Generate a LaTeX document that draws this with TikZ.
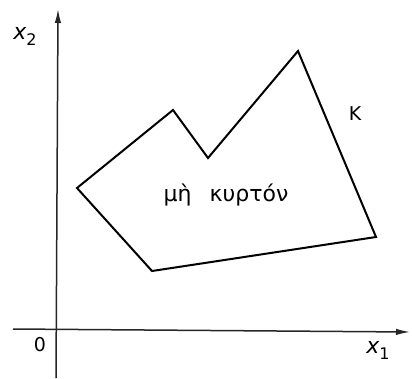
\documentclass[tikz,border=0pt]{standalone}
\usepackage{fontspec}
\setmainfont{DejaVu Sans}
\usetikzlibrary{arrows.meta}
\begin{document}
\begin{tikzpicture}[x=1pt,y=-1pt,
  axis/.style={line width=1.5pt,draw=black!85,-{Latex[length=14pt,width=6.5pt]}},
  poly/.style={line width=2pt,line join=miter},
  lbl/.style={inner sep=0pt,font=\fontsize{19}{19}\selectfont}]
\useasboundingbox (0,0) rectangle (412,378);
\coordinate (xs) at (13,329);
\coordinate (xe) at (410,332);
\coordinate (ys) at (56,378);
\coordinate (ye) at (58,9);
\draw[axis] (xs) -- (xe);
\draw[axis] (ys) -- (ye);
\coordinate (p1) at (77,188);
\coordinate (p2) at (173,110);
\coordinate (p3) at (208,158);
\coordinate (p4) at (298,51);
\coordinate (p5) at (376,237);
\coordinate (p6) at (152,271);
\draw[poly] (p1) -- (p2) -- (p3) -- (p4) -- (p5) -- (p6) -- cycle;
\node[lbl] (x2) at (25,36) {\fontsize{22}{22}\selectfont$\mathit{x}$\raisebox{-6pt}{\fontsize{16}{16}\selectfont 2}};
\node[lbl] (x1) at (378,350) {\fontsize{22}{22}\selectfont$\mathit{x}$\raisebox{-6pt}{\fontsize{16}{16}\selectfont 1}};
\node[lbl] (o) at (40,345) {0};
\node[lbl] (k) at (355,114) {K};
\node[lbl,font=\fontsize{22}{22}\selectfont] (t) at (226,195) {μὴ\hspace{18pt}κυρτόν};
\end{tikzpicture}
\end{document}
